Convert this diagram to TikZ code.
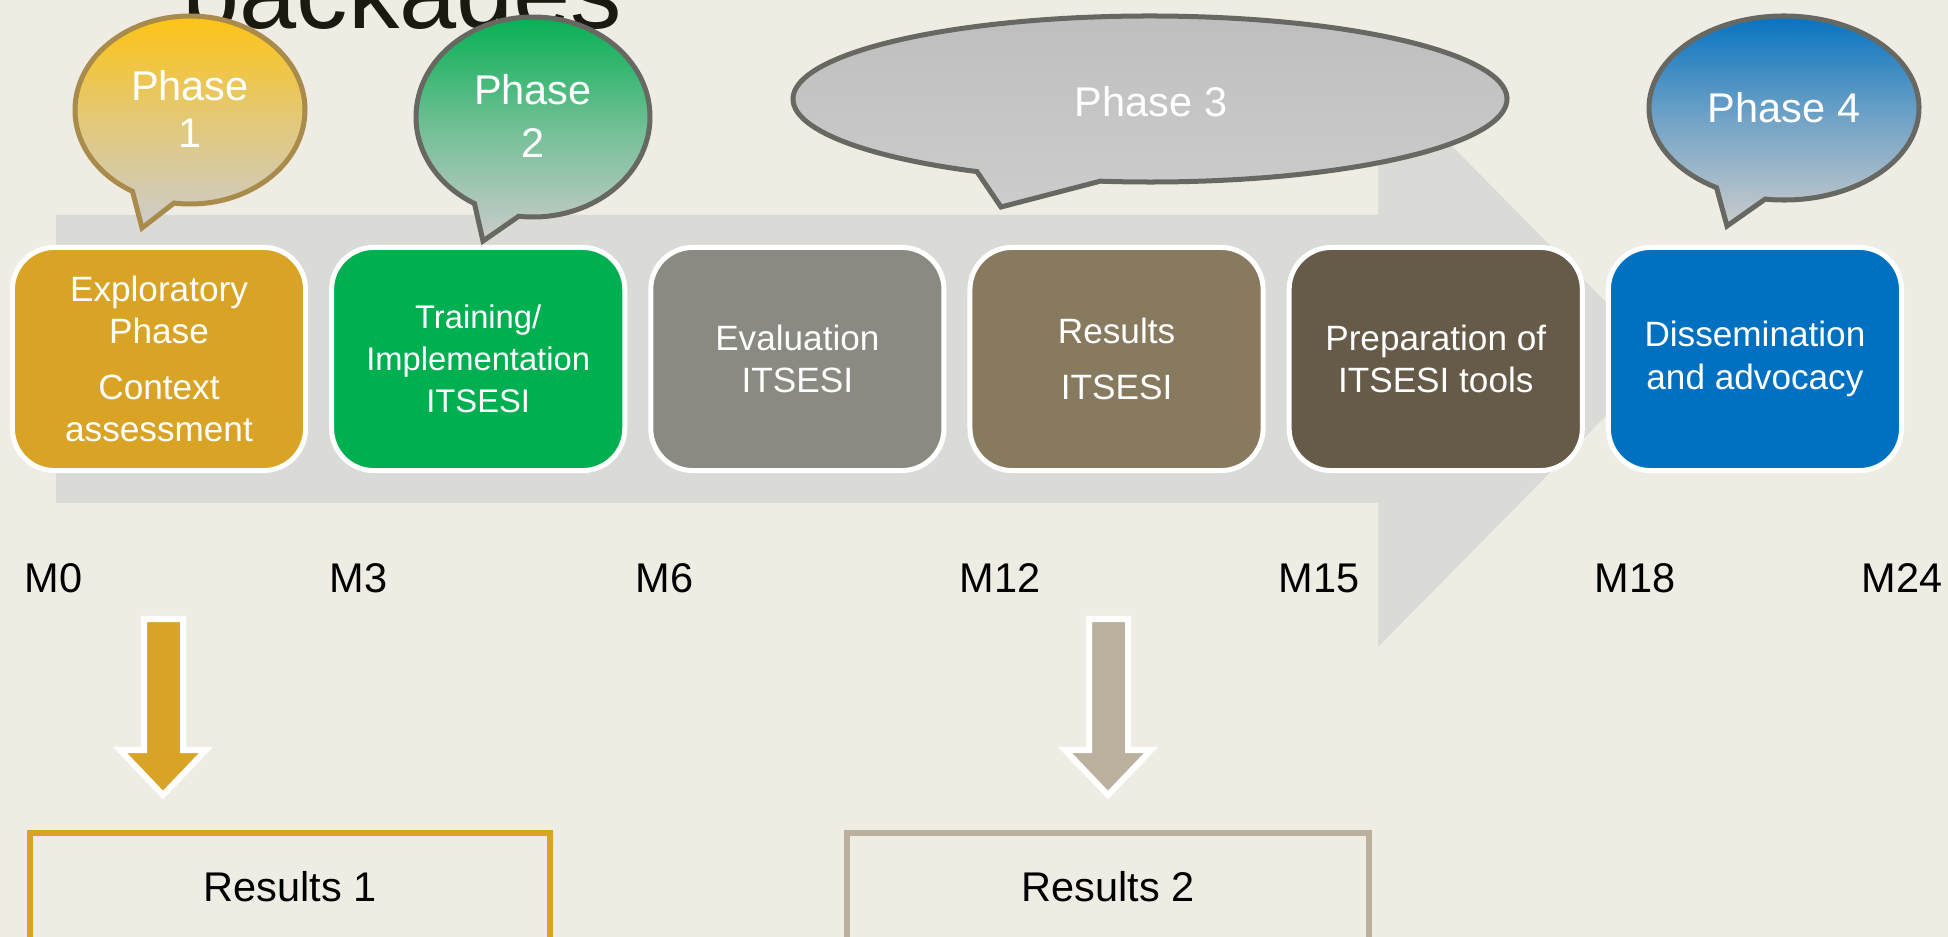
\documentclass[tikz,border=0pt]{standalone}
\usepackage{fontspec}
\setmainfont{Liberation Sans}
\usetikzlibrary{positioning, calc}

\definecolor{pagebg}{RGB}{239,236,228}
\definecolor{bandgray}{RGB}{218,218,214}
\definecolor{goldbox}{RGB}{217,164,38}
\definecolor{greenbox}{RGB}{0,175,80}
\definecolor{graybox}{RGB}{138,138,130}
\definecolor{tanbox}{RGB}{136,122,95}
\definecolor{brownbox}{RGB}{102,90,72}
\definecolor{bluebox}{RGB}{0,112,192}
\definecolor{resulttan}{RGB}{186,176,157}
\definecolor{bubblegray}{RGB}{204,204,204}
\definecolor{bubbletop}{RGB}{190,190,190}
\definecolor{bubbleedge}{RGB}{104,104,98}
\definecolor{goldedge}{RGB}{169,139,75}
\definecolor{phaseyellow}{RGB}{255,195,15}
\definecolor{titleink}{RGB}{26,26,16}

\tikzset{
  stage/.style={draw=white, line width=0.05cm, rounded corners=0.42cm, minimum width=2.93cm, minimum height=2.23cm, inner sep=0pt, text=white, align=center, font=\fontsize{10}{12}\selectfont},
  month/.style={anchor=west, inner sep=0pt, font=\fontsize{11.8}{14}\selectfont},
  bubble/.style={line width=0.05cm, draw=bubbleedge, line join=miter},
  phasetext/.style={text=white, align=center, inner sep=0pt, font=\fontsize{11.8}{14}\selectfont},
  result/.style={line width=0.06cm, minimum width=5.19cm, minimum height=1.08cm, font=\fontsize{11.8}{14}\selectfont},
  blockarrow/.style={draw=white, line width=0.06cm}
}

\begin{document}
\begin{tikzpicture}[x=0.01cm, y=-0.01cm]
  \useasboundingbox (0,0) rectangle (1948,937);
  \clip (0,0) rectangle (1948,937);
  \fill[pagebg] (0,0) rectangle (1948,937);

  % slide title, cut off at the top
  \begin{scope}
    \clip (0,0) rectangle (1948,31);
    \node[anchor=base west, inner sep=0pt, text=titleink, font=\fontsize{29.2}{30}\selectfont] (title) at (182,29) {packages};
  \end{scope}

  % long arrow behind the stages
  \fill[bandgray] (56,215) -- (1378,215) -- (1378,71) -- (1662,359) -- (1378,647) -- (1378,503) -- (56,503) -- cycle;

  % stages
  \node[stage, fill=goldbox] (explore) at (159,359) {Exploratory\\Phase\\[4pt]Context\\assessment};
  \node[stage, fill=greenbox, right=0.21cm of explore, font=\fontsize{9.3}{12}\selectfont] (train) {Training/\\Implementation\\ITSESI};
  \node[stage, fill=graybox, right=0.21cm of train] (eval) {Evaluation\\ITSESI};
  \node[stage, fill=tanbox, right=0.21cm of eval] (results) {Results\\[4pt]ITSESI};
  \node[stage, fill=brownbox, right=0.21cm of results] (tools) {Preparation of\\ITSESI tools};
  \node[stage, fill=bluebox, right=0.21cm of tools] (dissem) {Dissemination\\and advocacy};

  % phase bubbles
  \draw[bubble, draw=goldedge, top color=phaseyellow, bottom color=bubblegray, middle color=phaseyellow!45!bubblegray]
    ($(190,110)+(98:115 and 94)$) arc[start angle=98, end angle=-240, x radius=115, y radius=94] -- (142,228) -- cycle;
  \node[phasetext, font=\fontsize{11.8}{13.6}\selectfont] (ph1) at (190,109) {Phase\\1};

  \draw[bubble, top color=greenbox, bottom color=bubblegray, middle color=greenbox!45!bubblegray]
    ($(533,117)+(97:117 and 100)$) arc[start angle=97, end angle=-240, x radius=117, y radius=100] -- (483,241) -- cycle;
  \node[phasetext, font=\fontsize{11.8}{15}\selectfont] (ph2) at (533,116) {Phase\\2};

  \draw[bubble, top color=bubbletop, bottom color=bubblegray]
    ($(1150,99)+(98:357 and 83)$) arc[start angle=98, end angle=-241, x radius=357, y radius=83] -- (1001,207) -- cycle;
  \node[phasetext] (ph3) at (1151,102) {Phase 3};

  \draw[bubble, top color=bluebox, bottom color=bubblegray, middle color=bluebox!45!bubblegray]
    ($(1784,108)+(98:135 and 92)$) arc[start angle=98, end angle=-240, x radius=135, y radius=92] -- (1727,226) -- cycle;
  \node[phasetext] (ph4) at (1784,108) {Phase 4};

  % months
  \node[month] (m0) at (24,578) {M0};
  \node[month] (m3) at (329,578) {M3};
  \node[month] (m6) at (635,578) {M6};
  \node[month] (m12) at (959,578) {M12};
  \node[month] (m15) at (1278,578) {M15};
  \node[month] (m18) at (1594,578) {M18};
  \node[month] (m24) at (1861,578) {M24};

  % arrows down to the results
  \draw[blockarrow, fill=goldbox] (144,619) -- (183,619) -- (183,750) -- (206,750) -- (163,795) -- (120,750) -- (144,750) -- cycle;
  \draw[blockarrow, fill=resulttan] (1089,619) -- (1128,619) -- (1128,750) -- (1151,750) -- (1108,795) -- (1065,750) -- (1089,750) -- cycle;

  \node[result, draw=goldbox] (res1) at (290,887) {Results 1};
  \node[result, draw=resulttan, minimum width=5.21cm] (res2) at (1108,887) {Results 2};
\end{tikzpicture}
\end{document}
